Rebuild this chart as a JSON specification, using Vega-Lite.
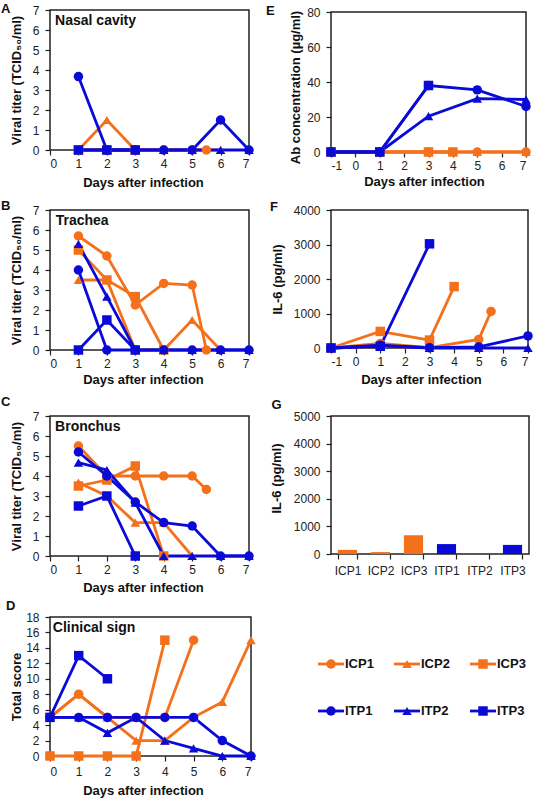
{
  "$schema": "https://vega.github.io/schema/vega-lite/v6.json",
  "description": "Viral titers, clinical score, antibody and IL-6 after infection for ICP and ITP animals.",
  "padding": {"left": 0, "top": 2, "right": 0, "bottom": 0},
  "autosize": "pad",
  "background": "white",
  "config": {
    "font": "Liberation Sans",
    "view": {"stroke": "#222", "strokeWidth": 1.5},
    "axis": {"grid": false, "domain": false, "ticks": true, "labelOverlap": false, "tickColor": "#222", "tickSize": 5, "tickWidth": 1.2, "labelColor": "#222", "labelFont": "Liberation Sans", "labelFontSize": 12, "titleFont": "Liberation Sans", "titleFontSize": 13, "titleFontWeight": "bold", "titleColor": "#111"},
    "axisY": {"labelPadding": 6},
    "axisX": {"labelPadding": 3, "labelAngle": 0},
    "text": {"font": "Liberation Sans", "fontWeight": "bold", "color": "#111"},
    "range": {
      "category": ["#F4701A", "#F4701A", "#F4701A", "#0A0AD8", "#0A0AD8", "#0A0AD8"],
      "symbol": ["circle", "triangle-up", "square", "circle", "triangle-up", "square"]
    }
  },
  "datasets": {
    "runs": [
      {"panel": "A", "series": "ICP1", "day": 1, "value": 0}, {"panel": "A", "series": "ICP1", "day": 2, "value": 0}, {"panel": "A", "series": "ICP1", "day": 3, "value": 0}, {"panel": "A", "series": "ICP1", "day": 4, "value": 0}, {"panel": "A", "series": "ICP1", "day": 5, "value": 0}, {"panel": "A", "series": "ICP1", "day": 5.5, "value": 0},
      {"panel": "A", "series": "ICP2", "day": 1, "value": 0}, {"panel": "A", "series": "ICP2", "day": 2, "value": 1.5}, {"panel": "A", "series": "ICP2", "day": 3, "value": 0}, {"panel": "A", "series": "ICP2", "day": 4, "value": 0}, {"panel": "A", "series": "ICP2", "day": 5, "value": 0}, {"panel": "A", "series": "ICP2", "day": 6, "value": 0},
      {"panel": "A", "series": "ICP3", "day": 1, "value": 0}, {"panel": "A", "series": "ICP3", "day": 2, "value": 0}, {"panel": "A", "series": "ICP3", "day": 3, "value": 0},
      {"panel": "A", "series": "ITP1", "day": 1, "value": 3.67}, {"panel": "A", "series": "ITP1", "day": 2, "value": 0}, {"panel": "A", "series": "ITP1", "day": 3, "value": 0}, {"panel": "A", "series": "ITP1", "day": 4, "value": 0}, {"panel": "A", "series": "ITP1", "day": 5, "value": 0}, {"panel": "A", "series": "ITP1", "day": 6, "value": 1.5}, {"panel": "A", "series": "ITP1", "day": 7, "value": 0},
      {"panel": "A", "series": "ITP2", "day": 1, "value": 0}, {"panel": "A", "series": "ITP2", "day": 2, "value": 0}, {"panel": "A", "series": "ITP2", "day": 3, "value": 0}, {"panel": "A", "series": "ITP2", "day": 4, "value": 0}, {"panel": "A", "series": "ITP2", "day": 5, "value": 0}, {"panel": "A", "series": "ITP2", "day": 6, "value": 0}, {"panel": "A", "series": "ITP2", "day": 7, "value": 0},
      {"panel": "A", "series": "ITP3", "day": 1, "value": 0}, {"panel": "A", "series": "ITP3", "day": 2, "value": 0}, {"panel": "A", "series": "ITP3", "day": 3, "value": 0},

      {"panel": "B", "series": "ICP1", "day": 1, "value": 5.7}, {"panel": "B", "series": "ICP1", "day": 2, "value": 4.7}, {"panel": "B", "series": "ICP1", "day": 3, "value": 2.25}, {"panel": "B", "series": "ICP1", "day": 4, "value": 3.33}, {"panel": "B", "series": "ICP1", "day": 5, "value": 3.25}, {"panel": "B", "series": "ICP1", "day": 5.5, "value": 0},
      {"panel": "B", "series": "ICP2", "day": 1, "value": 3.5}, {"panel": "B", "series": "ICP2", "day": 2, "value": 3.5}, {"panel": "B", "series": "ICP2", "day": 3, "value": 0}, {"panel": "B", "series": "ICP2", "day": 4, "value": 0}, {"panel": "B", "series": "ICP2", "day": 5, "value": 1.5}, {"panel": "B", "series": "ICP2", "day": 6, "value": 0},
      {"panel": "B", "series": "ICP3", "day": 1, "value": 5}, {"panel": "B", "series": "ICP3", "day": 2, "value": 3.5}, {"panel": "B", "series": "ICP3", "day": 3, "value": 2.67}, {"panel": "B", "series": "ICP3", "day": 4, "value": 0},
      {"panel": "B", "series": "ITP1", "day": 1, "value": 4}, {"panel": "B", "series": "ITP1", "day": 2, "value": 0}, {"panel": "B", "series": "ITP1", "day": 3, "value": 0}, {"panel": "B", "series": "ITP1", "day": 4, "value": 0}, {"panel": "B", "series": "ITP1", "day": 5, "value": 0}, {"panel": "B", "series": "ITP1", "day": 6, "value": 0}, {"panel": "B", "series": "ITP1", "day": 7, "value": 0},
      {"panel": "B", "series": "ITP2", "day": 1, "value": 5.3}, {"panel": "B", "series": "ITP2", "day": 2, "value": 2.67}, {"panel": "B", "series": "ITP2", "day": 3, "value": 0}, {"panel": "B", "series": "ITP2", "day": 4, "value": 0}, {"panel": "B", "series": "ITP2", "day": 5, "value": 0}, {"panel": "B", "series": "ITP2", "day": 6, "value": 0}, {"panel": "B", "series": "ITP2", "day": 7, "value": 0},
      {"panel": "B", "series": "ITP3", "day": 1, "value": 0}, {"panel": "B", "series": "ITP3", "day": 2, "value": 1.5}, {"panel": "B", "series": "ITP3", "day": 3, "value": 0},

      {"panel": "C", "series": "ICP1", "day": 1, "value": 5.5}, {"panel": "C", "series": "ICP1", "day": 2, "value": 4}, {"panel": "C", "series": "ICP1", "day": 3, "value": 4}, {"panel": "C", "series": "ICP1", "day": 4, "value": 4}, {"panel": "C", "series": "ICP1", "day": 5, "value": 4}, {"panel": "C", "series": "ICP1", "day": 5.5, "value": 3.33},
      {"panel": "C", "series": "ICP2", "day": 1, "value": 3.67}, {"panel": "C", "series": "ICP2", "day": 2, "value": 3}, {"panel": "C", "series": "ICP2", "day": 3, "value": 1.67}, {"panel": "C", "series": "ICP2", "day": 4, "value": 1.67}, {"panel": "C", "series": "ICP2", "day": 5, "value": 0},
      {"panel": "C", "series": "ICP3", "day": 1, "value": 3.5}, {"panel": "C", "series": "ICP3", "day": 2, "value": 3.8}, {"panel": "C", "series": "ICP3", "day": 3, "value": 4.5}, {"panel": "C", "series": "ICP3", "day": 4, "value": 0},
      {"panel": "C", "series": "ITP1", "day": 1, "value": 5.2}, {"panel": "C", "series": "ITP1", "day": 2, "value": 4}, {"panel": "C", "series": "ITP1", "day": 3, "value": 2.7}, {"panel": "C", "series": "ITP1", "day": 4, "value": 1.67}, {"panel": "C", "series": "ITP1", "day": 5, "value": 1.5}, {"panel": "C", "series": "ITP1", "day": 6, "value": 0}, {"panel": "C", "series": "ITP1", "day": 7, "value": 0},
      {"panel": "C", "series": "ITP2", "day": 1, "value": 4.67}, {"panel": "C", "series": "ITP2", "day": 2, "value": 4.3}, {"panel": "C", "series": "ITP2", "day": 3, "value": 2.67}, {"panel": "C", "series": "ITP2", "day": 4, "value": 0}, {"panel": "C", "series": "ITP2", "day": 5, "value": 0}, {"panel": "C", "series": "ITP2", "day": 6, "value": 0}, {"panel": "C", "series": "ITP2", "day": 7, "value": 0},
      {"panel": "C", "series": "ITP3", "day": 1, "value": 2.5}, {"panel": "C", "series": "ITP3", "day": 2, "value": 3}, {"panel": "C", "series": "ITP3", "day": 3, "value": 0},

      {"panel": "D", "series": "ICP1", "day": 0, "value": 5}, {"panel": "D", "series": "ICP1", "day": 1, "value": 8}, {"panel": "D", "series": "ICP1", "day": 2, "value": 5}, {"panel": "D", "series": "ICP1", "day": 3, "value": 5}, {"panel": "D", "series": "ICP1", "day": 4, "value": 5}, {"panel": "D", "series": "ICP1", "day": 5, "value": 15},
      {"panel": "D", "series": "ICP2", "day": 0, "value": 5}, {"panel": "D", "series": "ICP2", "day": 1, "value": 8}, {"panel": "D", "series": "ICP2", "day": 2, "value": 5}, {"panel": "D", "series": "ICP2", "day": 3, "value": 2}, {"panel": "D", "series": "ICP2", "day": 4, "value": 2}, {"panel": "D", "series": "ICP2", "day": 5, "value": 5}, {"panel": "D", "series": "ICP2", "day": 6, "value": 7}, {"panel": "D", "series": "ICP2", "day": 7, "value": 15},
      {"panel": "D", "series": "ICP3", "day": 0, "value": 0}, {"panel": "D", "series": "ICP3", "day": 1, "value": 0}, {"panel": "D", "series": "ICP3", "day": 2, "value": 0}, {"panel": "D", "series": "ICP3", "day": 3, "value": 0}, {"panel": "D", "series": "ICP3", "day": 4, "value": 15},
      {"panel": "D", "series": "ITP1", "day": 0, "value": 5}, {"panel": "D", "series": "ITP1", "day": 1, "value": 5}, {"panel": "D", "series": "ITP1", "day": 2, "value": 5}, {"panel": "D", "series": "ITP1", "day": 3, "value": 5}, {"panel": "D", "series": "ITP1", "day": 4, "value": 5}, {"panel": "D", "series": "ITP1", "day": 5, "value": 5}, {"panel": "D", "series": "ITP1", "day": 6, "value": 2}, {"panel": "D", "series": "ITP1", "day": 7, "value": 0},
      {"panel": "D", "series": "ITP2", "day": 0, "value": 5}, {"panel": "D", "series": "ITP2", "day": 1, "value": 5}, {"panel": "D", "series": "ITP2", "day": 2, "value": 3}, {"panel": "D", "series": "ITP2", "day": 3, "value": 5}, {"panel": "D", "series": "ITP2", "day": 4, "value": 2}, {"panel": "D", "series": "ITP2", "day": 5, "value": 1}, {"panel": "D", "series": "ITP2", "day": 6, "value": 0}, {"panel": "D", "series": "ITP2", "day": 7, "value": 0},
      {"panel": "D", "series": "ITP3", "day": 0, "value": 5}, {"panel": "D", "series": "ITP3", "day": 1, "value": 13}, {"panel": "D", "series": "ITP3", "day": 2, "value": 10},

      {"panel": "E", "series": "ICP1", "day": -1, "value": 0}, {"panel": "E", "series": "ICP1", "day": 1, "value": 0}, {"panel": "E", "series": "ICP1", "day": 3, "value": 0}, {"panel": "E", "series": "ICP1", "day": 5, "value": 0}, {"panel": "E", "series": "ICP1", "day": 7, "value": 0},
      {"panel": "E", "series": "ICP2", "day": -1, "value": 0}, {"panel": "E", "series": "ICP2", "day": 1, "value": 0}, {"panel": "E", "series": "ICP2", "day": 3, "value": 0}, {"panel": "E", "series": "ICP2", "day": 5, "value": 0}, {"panel": "E", "series": "ICP2", "day": 7, "value": 0},
      {"panel": "E", "series": "ICP3", "day": -1, "value": 0}, {"panel": "E", "series": "ICP3", "day": 1, "value": 0}, {"panel": "E", "series": "ICP3", "day": 3, "value": 0}, {"panel": "E", "series": "ICP3", "day": 4, "value": 0},
      {"panel": "E", "series": "ITP1", "day": -1, "value": 0}, {"panel": "E", "series": "ITP1", "day": 1, "value": 0}, {"panel": "E", "series": "ITP1", "day": 3, "value": 38}, {"panel": "E", "series": "ITP1", "day": 5, "value": 35.5}, {"panel": "E", "series": "ITP1", "day": 7, "value": 26},
      {"panel": "E", "series": "ITP2", "day": -1, "value": 0}, {"panel": "E", "series": "ITP2", "day": 1, "value": 0}, {"panel": "E", "series": "ITP2", "day": 3, "value": 20.5}, {"panel": "E", "series": "ITP2", "day": 5, "value": 30.5}, {"panel": "E", "series": "ITP2", "day": 7, "value": 30},
      {"panel": "E", "series": "ITP3", "day": -1, "value": 0}, {"panel": "E", "series": "ITP3", "day": 1, "value": 0}, {"panel": "E", "series": "ITP3", "day": 3, "value": 38},

      {"panel": "F", "series": "ICP1", "day": -1, "value": 0}, {"panel": "F", "series": "ICP1", "day": 1, "value": 130}, {"panel": "F", "series": "ICP1", "day": 3, "value": 10}, {"panel": "F", "series": "ICP1", "day": 5, "value": 250}, {"panel": "F", "series": "ICP1", "day": 5.5, "value": 1060},
      {"panel": "F", "series": "ICP2", "day": -1, "value": 0}, {"panel": "F", "series": "ICP2", "day": 1, "value": 50}, {"panel": "F", "series": "ICP2", "day": 3, "value": 10}, {"panel": "F", "series": "ICP2", "day": 5, "value": 10},
      {"panel": "F", "series": "ICP3", "day": -1, "value": 0}, {"panel": "F", "series": "ICP3", "day": 1, "value": 480}, {"panel": "F", "series": "ICP3", "day": 3, "value": 230}, {"panel": "F", "series": "ICP3", "day": 4, "value": 1780},
      {"panel": "F", "series": "ITP1", "day": -1, "value": 0}, {"panel": "F", "series": "ITP1", "day": 1, "value": 80}, {"panel": "F", "series": "ITP1", "day": 3, "value": 10}, {"panel": "F", "series": "ITP1", "day": 5, "value": 30}, {"panel": "F", "series": "ITP1", "day": 7, "value": 350},
      {"panel": "F", "series": "ITP2", "day": -1, "value": 0}, {"panel": "F", "series": "ITP2", "day": 1, "value": 60}, {"panel": "F", "series": "ITP2", "day": 3, "value": 0}, {"panel": "F", "series": "ITP2", "day": 5, "value": 0}, {"panel": "F", "series": "ITP2", "day": 7, "value": 0},
      {"panel": "F", "series": "ITP3", "day": -1, "value": 0}, {"panel": "F", "series": "ITP3", "day": 1, "value": 50}, {"panel": "F", "series": "ITP3", "day": 3, "value": 3020}
    ],
    "peaks": [
      {"series": "ICP1", "value": 150},
      {"series": "ICP2", "value": 70},
      {"series": "ICP3", "value": 680},
      {"series": "ITP1", "value": 360},
      {"series": "ITP2", "value": 0},
      {"series": "ITP3", "value": 330}
    ],
    "key": [
      {"series": "ICP1", "group": "ICP", "slot": "1"},
      {"series": "ICP2", "group": "ICP", "slot": "2"},
      {"series": "ICP3", "group": "ICP", "slot": "3"},
      {"series": "ITP1", "group": "ITP", "slot": "1"},
      {"series": "ITP2", "group": "ITP", "slot": "2"},
      {"series": "ITP3", "group": "ITP", "slot": "3"}
    ]
  },
  "bounds": "flush",
  "align": "none",
  "columns": 3,
  "spacing": 0,
  "concat": [
    {
      "width": 199, "height": 140,
      "encoding": {
        "x": {"field": "day", "type": "quantitative", "scale": {"domain": [0, 7], "nice": false}, "axis": {"values": [0, 1, 2, 3, 4, 5, 6, 7], "title": "Days after infection", "titlePadding": 7, "titleX": 93}},
        "y": {"field": "value", "type": "quantitative", "scale": {"domain": [0, 7], "nice": false}, "axis": {"values": [0, 1, 2, 3, 4, 5, 6, 7], "title": "Viral titer (TCID₅₀/ml)", "titlePadding": 9}}
      },
      "layer": [
        {"data": {"name": "runs"}, "transform": [{"filter": "datum.panel == 'A'"}], "mark": {"type": "line", "strokeWidth": 2.8}, "encoding": {"color": {"field": "series", "type": "nominal", "legend": null}, "detail": {"field": "series"}}},
        {"data": {"name": "runs"}, "transform": [{"filter": "datum.panel == 'A'"}], "mark": {"type": "point", "filled": true, "size": 90, "opacity": 1}, "encoding": {"color": {"field": "series", "type": "nominal", "legend": null}, "shape": {"field": "series", "type": "nominal", "legend": null}}},
        {"data": {"values": [{"day": 0.18, "value": 6.45, "label": "Nasal cavity"}]}, "mark": {"type": "text", "align": "left", "fontSize": 14}, "encoding": {"text": {"field": "label"}}},
        {"data": {"values": [{"day": -1.72, "value": 7.05, "label": "A"}]}, "mark": {"type": "text", "align": "left", "fontSize": 13}, "encoding": {"text": {"field": "label"}}}
      ]
    },
    {"width": 80, "height": 1, "view": {"stroke": null}, "data": {"values": []}, "mark": "point"},
    {
      "width": 195, "height": 142,
      "view": {"stroke": null},
      "encoding": {
        "x": {"field": "day", "type": "quantitative", "scale": {"domain": [-1, 7], "nice": false}, "axis": {"values": [-1, 0, 1, 2, 3, 4, 5, 6, 7], "labelExpr": "datum.value", "title": "Days after infection", "titlePadding": 4, "titleX": 93}},
        "y": {"field": "value", "type": "quantitative", "scale": {"domain": [0, 80], "nice": false, "range": [142, 2]}, "axis": {"values": [0, 20, 40, 60, 80], "title": "Ab concentration (µg/ml)", "titlePadding": 4, "titleY": 77}}
      },
      "layer": [
        {"data": {"values": [{"day": -1, "value": 0, "dayEnd": 7, "valueEnd": 80}]}, "mark": {"type": "rect", "fill": "transparent", "stroke": "#222", "strokeWidth": 1.5}, "encoding": {"x2": {"field": "dayEnd"}, "y2": {"field": "valueEnd"}}},
        {"data": {"name": "runs"}, "transform": [{"filter": "datum.panel == 'E'"}], "mark": {"type": "line", "strokeWidth": 2.8}, "encoding": {"color": {"field": "series", "type": "nominal", "legend": null}, "detail": {"field": "series"}}},
        {"data": {"name": "runs"}, "transform": [{"filter": "datum.panel == 'E'"}], "mark": {"type": "point", "filled": true, "size": 90, "opacity": 1}, "encoding": {"color": {"field": "series", "type": "nominal", "legend": null}, "shape": {"field": "series", "type": "nominal", "legend": null}}},
        {"data": {"values": [{"day": -3.67, "value": 80.3, "label": "E"}]}, "mark": {"type": "text", "align": "left", "fontSize": 13}, "encoding": {"text": {"field": "label"}}}
      ]
    },
    {"width": 1, "height": 58, "view": {"stroke": null}, "data": {"values": []}, "mark": "point"},
    {"width": 1, "height": 1, "view": {"stroke": null}, "data": {"values": []}, "mark": "point"},
    {"width": 1, "height": 1, "view": {"stroke": null}, "data": {"values": []}, "mark": "point"},
    {
      "width": 199, "height": 140,
      "encoding": {
        "x": {"field": "day", "type": "quantitative", "scale": {"domain": [0, 7], "nice": false}, "axis": {"values": [0, 1, 2, 3, 4, 5, 6, 7], "title": "Days after infection", "titlePadding": 4, "titleX": 93}},
        "y": {"field": "value", "type": "quantitative", "scale": {"domain": [0, 7], "nice": false}, "axis": {"values": [0, 1, 2, 3, 4, 5, 6, 7], "title": "Viral titer (TCID₅₀/ml)", "titlePadding": 9}}
      },
      "layer": [
        {"data": {"name": "runs"}, "transform": [{"filter": "datum.panel == 'B'"}], "mark": {"type": "line", "strokeWidth": 2.8}, "encoding": {"color": {"field": "series", "type": "nominal", "legend": null}, "detail": {"field": "series"}}},
        {"data": {"name": "runs"}, "transform": [{"filter": "datum.panel == 'B'"}], "mark": {"type": "point", "filled": true, "size": 90, "opacity": 1}, "encoding": {"color": {"field": "series", "type": "nominal", "legend": null}, "shape": {"field": "series", "type": "nominal", "legend": null}}},
        {"data": {"values": [{"day": 0.2, "value": 6.45, "label": "Trachea"}]}, "mark": {"type": "text", "align": "left", "fontSize": 14}, "encoding": {"text": {"field": "label"}}},
        {"data": {"values": [{"day": -1.72, "value": 7.2, "label": "B"}]}, "mark": {"type": "text", "align": "left", "fontSize": 13}, "encoding": {"text": {"field": "label"}}}
      ]
    },
    {"width": 76, "height": 1, "view": {"stroke": null}, "data": {"values": []}, "mark": "point"},
    {
      "width": 197, "height": 138,
      "encoding": {
        "x": {"field": "day", "type": "quantitative", "scale": {"domain": [-1, 7], "nice": false}, "axis": {"values": [-1, 0, 1, 2, 3, 4, 5, 6, 7], "labelExpr": "datum.value", "title": "Days after infection", "titlePadding": 6, "titleX": 90}},
        "y": {"field": "value", "type": "quantitative", "scale": {"domain": [0, 4000], "nice": false}, "axis": {"values": [0, 1000, 2000, 3000, 4000], "format": "d", "title": "IL-6 (pg/ml)", "titlePadding": 9}}
      },
      "layer": [
        {"data": {"name": "runs"}, "transform": [{"filter": "datum.panel == 'F'"}], "mark": {"type": "line", "strokeWidth": 2.8}, "encoding": {"color": {"field": "series", "type": "nominal", "legend": null}, "detail": {"field": "series"}}},
        {"data": {"name": "runs"}, "transform": [{"filter": "datum.panel == 'F'"}], "mark": {"type": "point", "filled": true, "size": 90, "opacity": 1}, "encoding": {"color": {"field": "series", "type": "nominal", "legend": null}, "shape": {"field": "series", "type": "nominal", "legend": null}}},
        {"data": {"values": [{"day": -3.48, "value": 4087, "label": "F"}]}, "mark": {"type": "text", "align": "left", "fontSize": 13}, "encoding": {"text": {"field": "label"}}}
      ]
    },
    {"width": 1, "height": 66, "view": {"stroke": null}, "data": {"values": []}, "mark": "point"},
    {"width": 1, "height": 1, "view": {"stroke": null}, "data": {"values": []}, "mark": "point"},
    {"width": 1, "height": 1, "view": {"stroke": null}, "data": {"values": []}, "mark": "point"},
    {
      "width": 199, "height": 140,
      "encoding": {
        "x": {"field": "day", "type": "quantitative", "scale": {"domain": [0, 7], "nice": false}, "axis": {"values": [0, 1, 2, 3, 4, 5, 6, 7], "title": "Days after infection", "titlePadding": 6, "titleX": 93}},
        "y": {"field": "value", "type": "quantitative", "scale": {"domain": [0, 7], "nice": false}, "axis": {"values": [0, 1, 2, 3, 4, 5, 6, 7], "title": "Viral titer (TCID₅₀/ml)", "titlePadding": 9}}
      },
      "layer": [
        {"data": {"name": "runs"}, "transform": [{"filter": "datum.panel == 'C'"}], "mark": {"type": "line", "strokeWidth": 2.8}, "encoding": {"color": {"field": "series", "type": "nominal", "legend": null}, "detail": {"field": "series"}}},
        {"data": {"name": "runs"}, "transform": [{"filter": "datum.panel == 'C'"}], "mark": {"type": "point", "filled": true, "size": 90, "opacity": 1}, "encoding": {"color": {"field": "series", "type": "nominal", "legend": null}, "shape": {"field": "series", "type": "nominal", "legend": null}}},
        {"data": {"values": [{"day": 0.18, "value": 6.45, "label": "Bronchus"}]}, "mark": {"type": "text", "align": "left", "fontSize": 14}, "encoding": {"text": {"field": "label"}}},
        {"data": {"values": [{"day": -1.72, "value": 7.7, "label": "C"}]}, "mark": {"type": "text", "align": "left", "fontSize": 13}, "encoding": {"text": {"field": "label"}}}
      ]
    },
    {"width": 74.7, "height": 1, "view": {"stroke": null}, "data": {"values": []}, "mark": "point"},
    {
      "width": 198, "height": 138,
      "encoding": {
        "x": {"field": "series", "type": "nominal", "scale": {"paddingInner": 0.42, "paddingOuter": 0.21}, "axis": {"title": null, "tickBand": "extent", "labelPadding": 6}},
        "y": {"field": "value", "type": "quantitative", "scale": {"domain": [0, 5000], "nice": false}, "axis": {"values": [0, 1000, 2000, 3000, 4000, 5000], "format": "d", "title": "IL-6 (pg/ml)", "titlePadding": 10, "titleY": 62}}
      },
      "layer": [
        {
          "data": {"name": "peaks"},
          "mark": {"type": "bar"},
          "encoding": {"color": {"field": "series", "type": "nominal", "legend": null}}
        },
        {"data": {"values": [{"series": "ICP1", "value": 5400, "label": "G"}]}, "mark": {"type": "text", "align": "left", "fontSize": 13, "dx": -76}, "encoding": {"text": {"field": "label"}}}
      ]
    },
    {"width": 1, "height": 61, "view": {"stroke": null}, "data": {"values": []}, "mark": "point"},
    {"width": 1, "height": 1, "view": {"stroke": null}, "data": {"values": []}, "mark": "point"},
    {"width": 1, "height": 1, "view": {"stroke": null}, "data": {"values": []}, "mark": "point"},
    {
      "width": 201, "height": 139,
      "encoding": {
        "x": {"field": "day", "type": "quantitative", "scale": {"domain": [0, 7], "nice": false}, "axis": {"values": [0, 1, 2, 3, 4, 5, 6, 7], "title": "Days after infection", "titlePadding": 7, "titleX": 93, "labelPadding": 5}},
        "y": {"field": "value", "type": "quantitative", "scale": {"domain": [0, 18], "nice": false}, "axis": {"values": [0, 2, 4, 6, 8, 10, 12, 14, 16, 18], "title": "Total score", "titlePadding": 2}}
      },
      "layer": [
        {"data": {"name": "runs"}, "transform": [{"filter": "datum.panel == 'D'"}], "mark": {"type": "line", "strokeWidth": 2.8}, "encoding": {"color": {"field": "series", "type": "nominal", "legend": null}, "detail": {"field": "series"}}},
        {"data": {"name": "runs"}, "transform": [{"filter": "datum.panel == 'D'"}], "mark": {"type": "point", "filled": true, "size": 90, "opacity": 1}, "encoding": {"color": {"field": "series", "type": "nominal", "legend": null}, "shape": {"field": "series", "type": "nominal", "legend": null}}},
        {"data": {"values": [{"day": 0.1, "value": 16.6, "label": "Clinical sign"}]}, "mark": {"type": "text", "align": "left", "fontSize": 14}, "encoding": {"text": {"field": "label"}}},
        {"data": {"values": [{"day": -1.53, "value": 19.4, "label": "D"}]}, "mark": {"type": "text", "align": "left", "fontSize": 13}, "encoding": {"text": {"field": "label"}}}
      ]
    },
    {"width": 80, "height": 1, "view": {"stroke": null}, "data": {"values": []}, "mark": "point"},
    {
      "width": 152, "height": 141,
      "view": {"stroke": null},
      "data": {"name": "key"},
      "encoding": {
        "x": {"field": "slot", "type": "ordinal", "scale": {"type": "point", "padding": 0}, "axis": null},
        "y": {"field": "group", "type": "ordinal", "scale": {"type": "point", "padding": 1.14}, "axis": null}
      },
      "layer": [
        {"mark": {"type": "tick", "orient": "horizontal", "size": 26, "thickness": 2.8, "opacity": 1}, "encoding": {"color": {"field": "series", "type": "nominal", "legend": null}}},
        {"mark": {"type": "point", "filled": true, "size": 90, "opacity": 1}, "encoding": {"color": {"field": "series", "type": "nominal", "legend": null}, "shape": {"field": "series", "type": "nominal", "legend": null}}},
        {"mark": {"type": "text", "align": "left", "dx": 14, "fontSize": 13}, "encoding": {"text": {"field": "series"}}}
      ]
    }
  ]
}
